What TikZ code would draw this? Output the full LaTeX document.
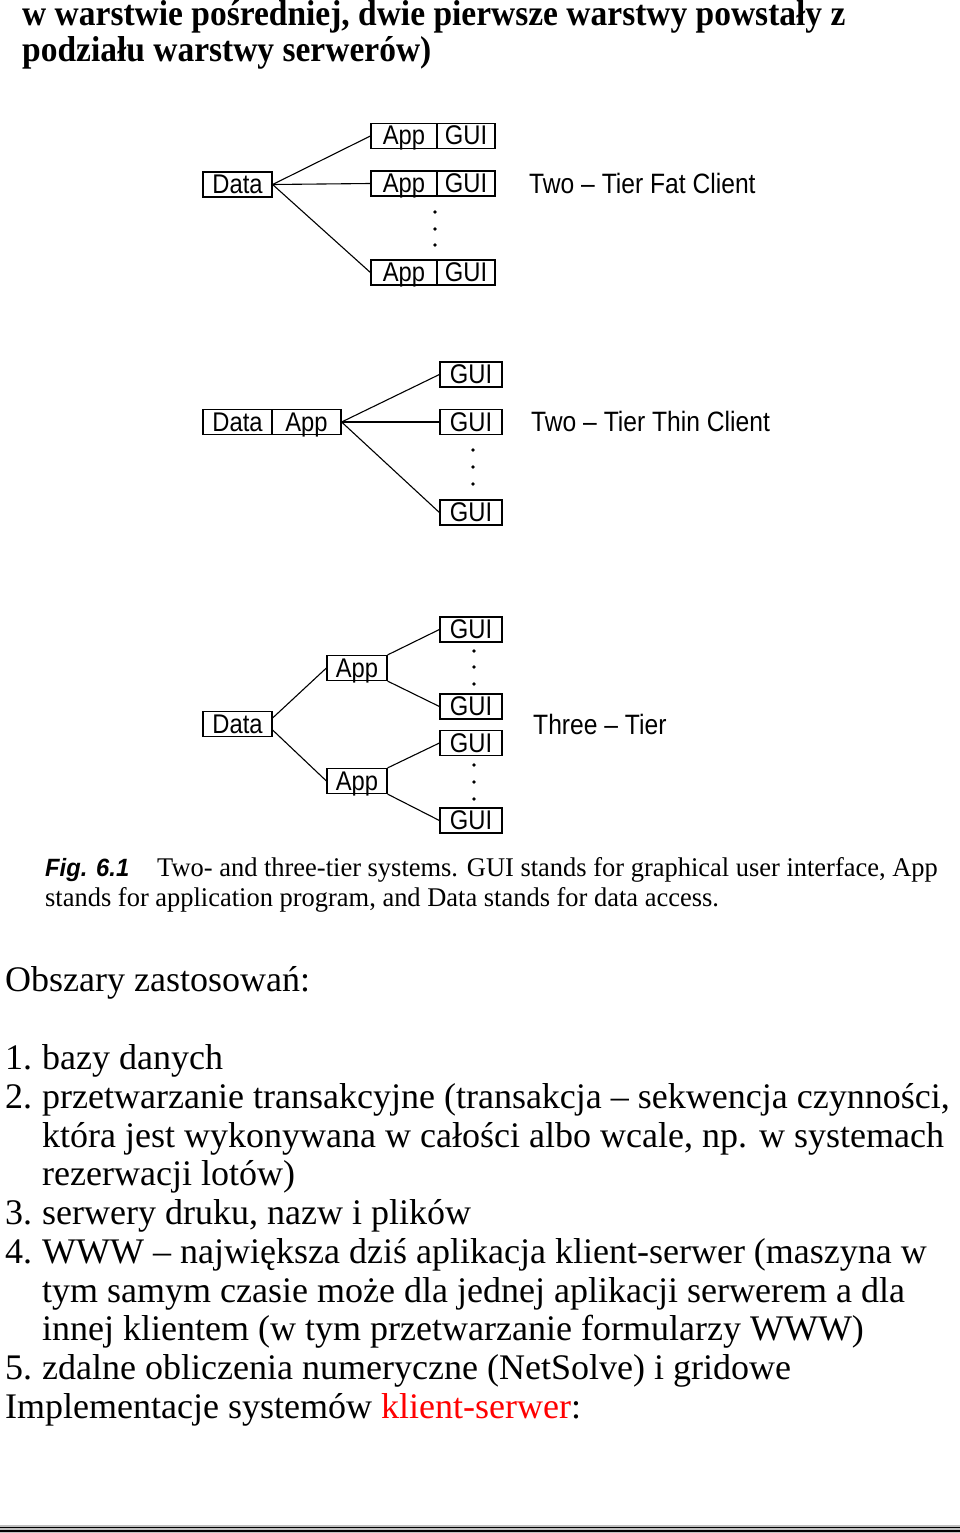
\documentclass[tikz,border=0pt]{standalone}
\usepackage{fontspec}
\setmainfont{Liberation Serif}
\newfontfamily\cond[FakeStretch=0.88]{Liberation Sans}
\newfontfamily\headf[FakeStretch=0.93]{Liberation Serif}
\newfontfamily\capf[FakeStretch=0.98]{Liberation Serif}
\newfontfamily\capsans[FakeStretch=0.95]{Liberation Sans}
\begin{document}
\begin{tikzpicture}[x=1pt,y=-1pt,
  bx/.style={draw, line width=1.2pt, minimum height=25pt, inner sep=0pt, text height=21.5pt, text depth=3.5pt, font=\cond\fontsize{27}{27}\selectfont},
  ln/.style={line width=1.1pt},
  dt/.style={circle, fill, inner sep=0pt, minimum size=3.8pt},
  lbl/.style={font=\cond\fontsize{28}{28}\selectfont, anchor=west, inner sep=0pt},
  body/.style={font=\fontsize{36}{36}\selectfont, anchor=base west, inner sep=0pt},
  head/.style={font=\headf\bfseries\fontsize{36}{36}\selectfont, anchor=base west, inner sep=0pt},
  captxt/.style={font=\capf\fontsize{27}{27}\selectfont, anchor=base west, inner sep=0pt},
]
\useasboundingbox (0,0) rectangle (960,1533);
\fill[white] (0,0) rectangle (960,1533);

% header
\node[head] (h1) at (22,26) {w warstwie pośredniej, dwie pierwsze warstwy powstały z};
\node[head] (h2) at (22,62) {podziału warstwy serwerów)};

% panel 1: two-tier fat client
\node[bx, minimum width=69pt] (d1) at (237.5,184.5) {Data};
\node[bx, minimum width=66pt] (a11) at (404,136) {App};
\node[bx, minimum width=58pt] (g11) at (466,136) {GUI};
\node[bx, minimum width=66pt] (a12) at (404,183.5) {App};
\node[bx, minimum width=58pt] (g12) at (466,183.5) {GUI};
\node[bx, minimum width=66pt] (a13) at (404,272.5) {App};
\node[bx, minimum width=58pt] (g13) at (466,272.5) {GUI};
\draw[ln] (d1.east) -- (a11.west);
\draw[ln] (d1.east) -- (a12.west);
\draw[ln] (d1.east) -- (a13.west);
\node[dt] (p1a) at (435,212) {};
\node[dt] (p1b) at (435,229) {};
\node[dt] (p1c) at (435,245) {};
\node[lbl] (l1) at (529,183) {Two – Tier Fat Client};

% panel 2: two-tier thin client
\node[bx, minimum width=69pt] (d2) at (237.5,422) {Data};
\node[bx, minimum width=69pt] (a2) at (306.5,422) {App};
\node[bx, minimum width=62pt] (g21) at (471,374.5) {GUI};
\node[bx, minimum width=62pt] (g22) at (471,422) {GUI};
\node[bx, minimum width=62pt] (g23) at (471,512.5) {GUI};
\draw[ln] (a2.east) -- (g21.west);
\draw[ln] (a2.east) -- (g22.west);
\draw[ln] (a2.east) -- (g23.west);
\node[dt] (p2a) at (473,450) {};
\node[dt] (p2b) at (473,467) {};
\node[dt] (p2c) at (473,484) {};
\node[lbl] (l2) at (531,421) {Two – Tier Thin Client};

% panel 3: three-tier
\node[bx, minimum width=69pt] (d3) at (237.5,724) {Data};
\node[bx, minimum width=60pt] (a31) at (357,668) {App};
\node[bx, minimum width=60pt] (a32) at (357,781) {App};
\node[bx, minimum width=62pt] (g31) at (471,629.5) {GUI};
\node[bx, minimum width=62pt] (g32) at (471,706.5) {GUI};
\node[bx, minimum width=62pt] (g33) at (471,743) {GUI};
\node[bx, minimum width=62pt] (g34) at (471,820.5) {GUI};
\draw[ln] ([yshift=6pt]d3.east) -- (a31.west);
\draw[ln] ([yshift=-6pt]d3.east) -- (a32.west);
\draw[ln] (a31.north east) -- (g31.west);
\draw[ln] (a31.south east) -- (g32.west);
\draw[ln] (a32.north east) -- (g33.west);
\draw[ln] (a32.south east) -- (g34.west);
\node[dt] (p3a) at (474,651) {};
\node[dt] (p3b) at (474,667) {};
\node[dt] (p3c) at (474,684) {};
\node[dt] (p3d) at (474,765) {};
\node[dt] (p3e) at (474,782) {};
\node[dt] (p3f) at (474,799) {};
\node[lbl] (l3) at (533,724) {Three – Tier};

% caption
\node[captxt, font=\capsans\bfseries\itshape\fontsize{25}{25}\selectfont] (c0) at (45,876) {Fig. 6.1};
\node[captxt] (c1) at (157,876) {Two- and three-tier systems. GUI stands for graphical user interface, App};
\node[captxt] (c2) at (45,906) {stands for application program, and Data stands for data access.};

% body
\node[body] (t0) at (5,991) {Obszary zastosowań:};
\node[body] (n1) at (5,1069) {1.};
\node[body] (t1) at (42,1069) {bazy danych};
\node[body] (n2) at (5,1108) {2.};
\node[body] (t2) at (42,1108) {przetwarzanie transakcyjne (transakcja – sekwencja czynności,};
\node[body] (t2b) at (42,1147) {która jest wykonywana w całości albo wcale, np. w systemach};
\node[body] (t2c) at (42,1185) {rezerwacji lotów)};
\node[body] (n3) at (5,1224) {3.};
\node[body] (t3) at (42,1224) {serwery druku, nazw i plików};
\node[body] (n4) at (5,1263) {4.};
\node[body] (t4) at (42,1263) {WWW – największa dziś aplikacja klient-serwer (maszyna w};
\node[body] (t4b) at (42,1302) {tym samym czasie może dla jednej aplikacji serwerem a dla};
\node[body] (t4c) at (42,1340) {innej klientem (w tym przetwarzanie formularzy WWW)};
\node[body] (n5) at (5,1379) {5.};
\node[body] (t5) at (42,1379) {zdalne obliczenia numeryczne (NetSolve) i gridowe};
\node[body] (t6) at (5,1418) {Implementacje systemów \textcolor{red}{klient-serwer}:};

% bottom rule
\fill[gray!50] (0,1525) rectangle (960,1533);
\draw[line width=1.2pt] (0,1527.5) -- (960,1527.5);
\draw[line width=1.2pt] (0,1531) -- (960,1531);
\end{tikzpicture}
\end{document}
